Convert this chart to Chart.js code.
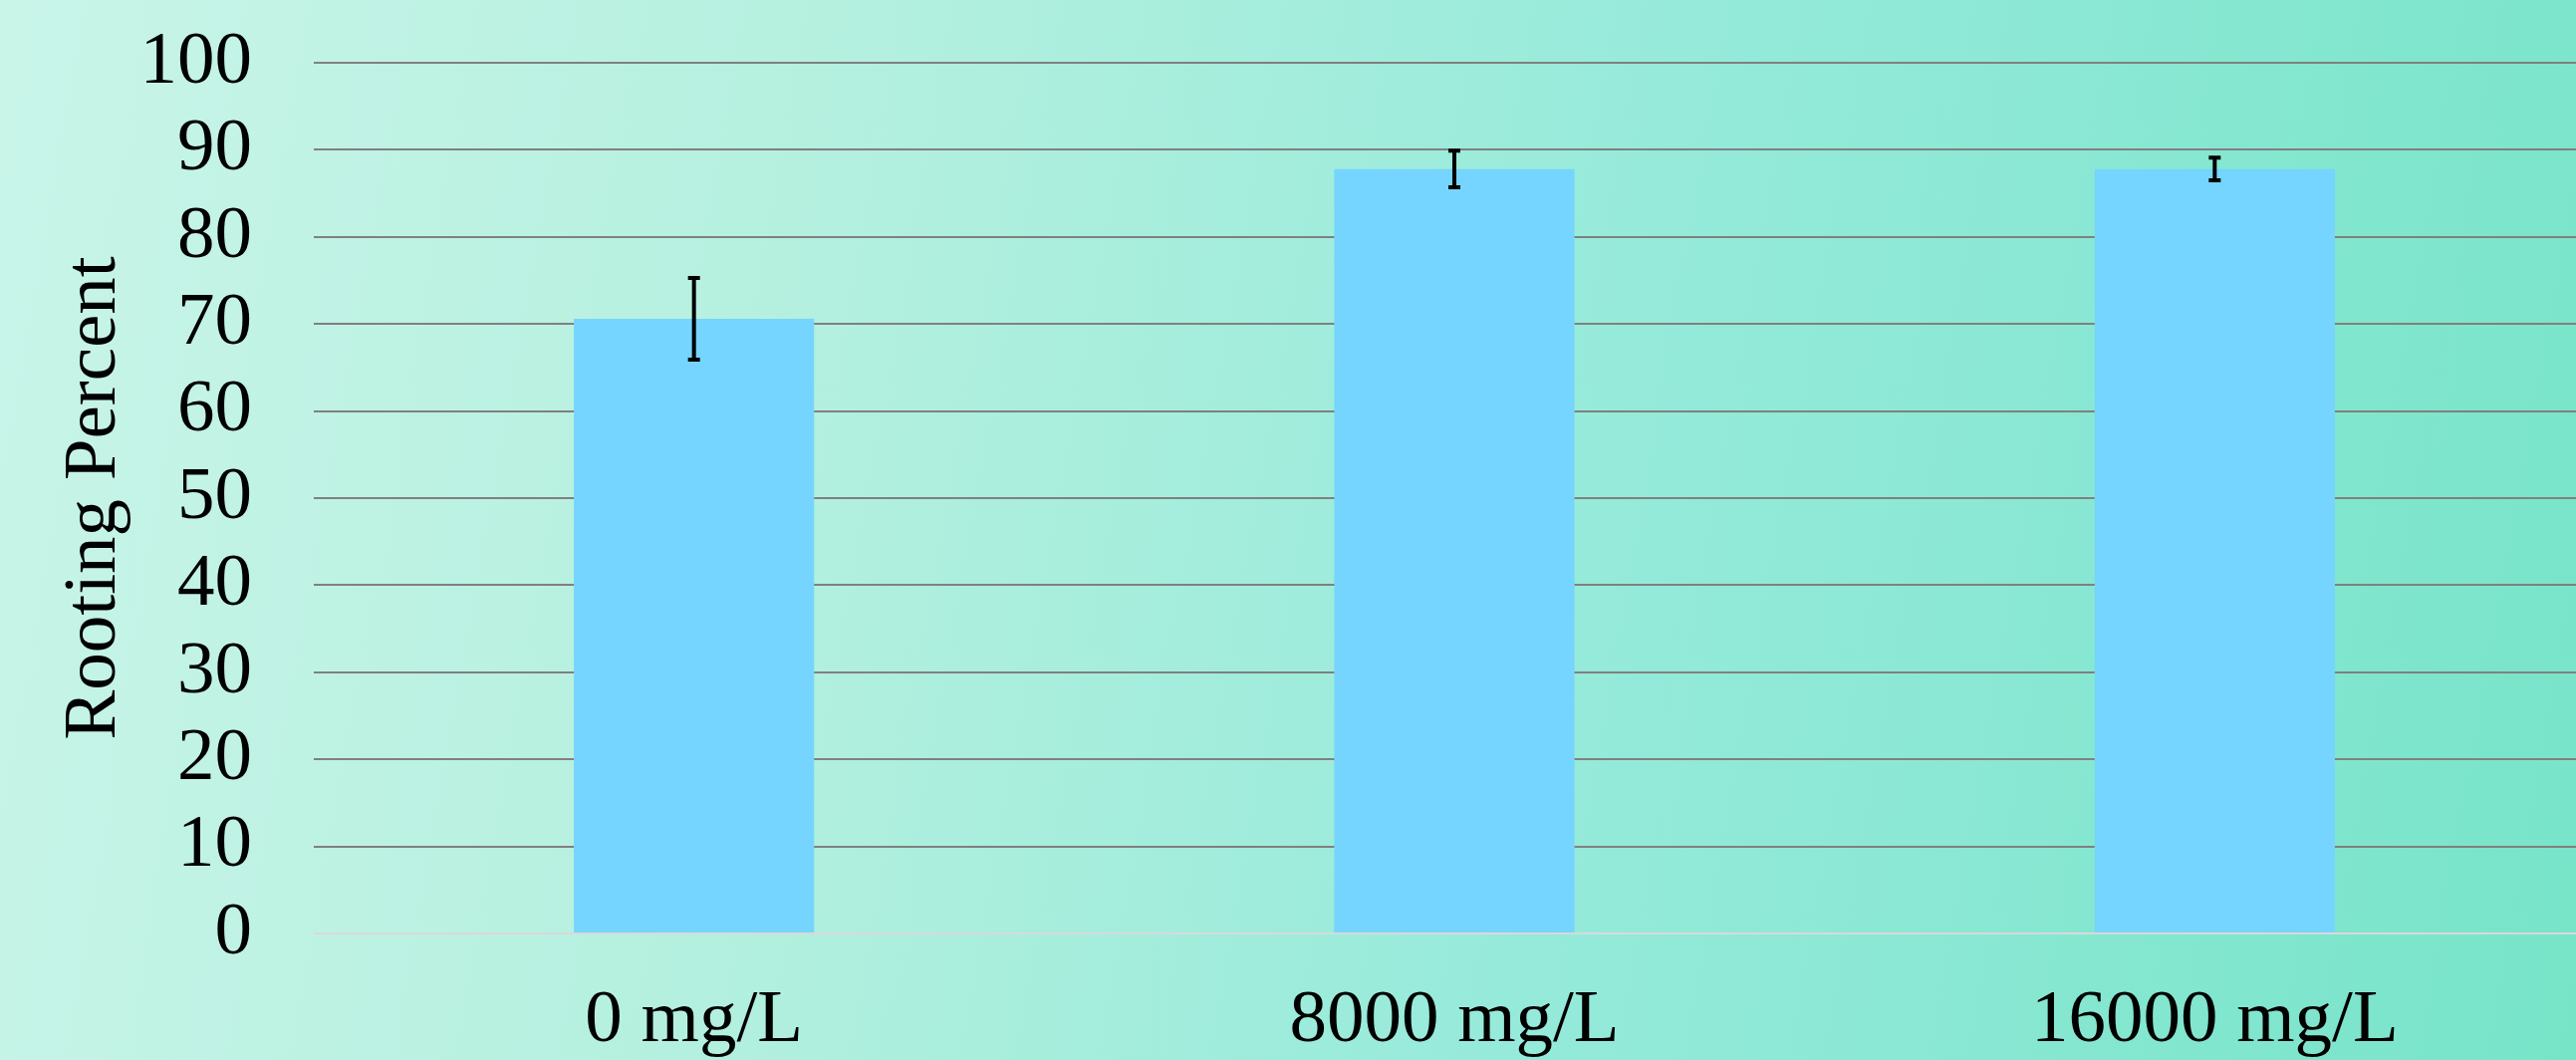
<!DOCTYPE html>
<html>
<head>
<meta charset="utf-8">
<script src="https://cdn.jsdelivr.net/npm/chart.js@4.4.1/dist/chart.umd.min.js"></script>
<style>
  html, body { margin: 0; padding: 0; overflow: hidden; width: 2586px; height: 1064px; }
  body { background: linear-gradient(100deg, #c9f5e9 0%, #b5f0df 30%, #95eada 62%, #77e4c8 100%); }
  #wrap { position: absolute; left: 0; top: 0; width: 2605px; height: 1064px; }
</style>
</head>
<body>
<div id="wrap"><canvas id="c"></canvas></div>
<script>
const categories = ["0 mg/L", "8000 mg/L", "16000 mg/L"];
const rootingPercent = [70.6, 87.8, 87.8];
const errorValues = [4.7, 2.1, 1.3];
const yTicks = [0, 10, 20, 30, 40, 50, 60, 70, 80, 90, 100];
const yTitle = "Rooting Percent";

const FONT = "'Liberation Serif', 'Times New Roman', serif";

const errorBarPlugin = {
  id: 'errorBars',
  afterDatasetsDraw(chart) {
    const ctx = chart.ctx;
    const meta = chart.getDatasetMeta(0);
    const y = chart.scales.y;
    ctx.save();
    ctx.strokeStyle = '#000000';
    ctx.lineWidth = 4;
    meta.data.forEach((bar, i) => {
      const v = rootingPercent[i], e = errorValues[i];
      const yTop = y.getPixelForValue(v + e);
      const yBot = y.getPixelForValue(v - e);
      const x = bar.x;
      ctx.beginPath();
      ctx.moveTo(x, yTop); ctx.lineTo(x, yBot);
      ctx.moveTo(x - 6, yTop); ctx.lineTo(x + 6, yTop);
      ctx.moveTo(x - 6, yBot); ctx.lineTo(x + 6, yBot);
      ctx.stroke();
    });
    ctx.restore();
  }
};

new Chart(document.getElementById('c'), {
  type: 'bar',
  data: {
    labels: categories,
    datasets: [{
      data: rootingPercent,
      backgroundColor: '#75d5ff',
      borderWidth: 0,
      categoryPercentage: 1.0,
      barPercentage: 0.316
    }]
  },
  options: {
    responsive: true,
    maintainAspectRatio: false,
    animation: false,
    layout: { padding: { top: 63, right: 0, bottom: 0, left: 0 } },
    plugins: { legend: { display: false }, tooltip: { enabled: false } },
    scales: {
      x: {
        grid: { display: false },
        border: { display: false },
        ticks: {
          color: '#000000',
          font: { family: FONT, size: 75 },
          padding: 35,
          maxRotation: 0
        },
        afterFit(scale) {
          scale.height = 127;
          scale.paddingLeft = 0; scale.paddingRight = 0;
        }
      },
      y: {
        min: 0,
        max: 100,
        afterBuildTicks(scale) { scale.ticks = yTicks.map(v => ({ value: v })); },
        grid: {
          color: (c) => (c.tick && c.tick.value === 0) ? '#d9d9d9' : '#808080',
          lineWidth: 2,
          drawTicks: false
        },
        border: { display: false },
        ticks: {
          color: '#000000',
          font: { family: FONT, size: 75 },
          padding: 62,
          autoSkip: false
        },
        title: {
          display: true,
          text: yTitle,
          color: '#000000',
          font: { family: FONT, size: 75 },
          padding: { top: 50, bottom: 0 }
        },
        afterFit(scale) {
          scale.width = 315;
          scale.paddingTop = 0; scale.paddingBottom = 0;
        }
      }
    }
  },
  plugins: [errorBarPlugin]
});
</script>
</body>
</html>
